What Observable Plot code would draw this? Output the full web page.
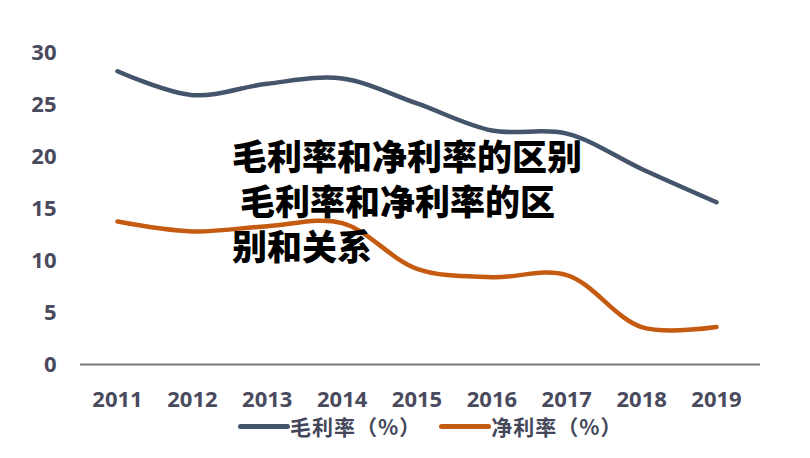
<!DOCTYPE html>
<html>
<head>
<meta charset="utf-8">
<script src="https://cdn.jsdelivr.net/npm/d3@7"></script>
<script src="https://cdn.jsdelivr.net/npm/@observablehq/plot@0.6"></script>
<style>
  html, body { margin: 0; padding: 0; background: #fff; }
  #wrap { position: relative; width: 810px; height: 458px; overflow: hidden; font-family: "Noto Sans CJK SC", "Open Sans", sans-serif; }
  #chart { position: absolute; left: 0; top: 0; }
  #title { position: absolute; left: 232px; top: 132px; font-size: 35px; line-height: 45px; font-weight: 900; color: #000; white-space: pre; }
  #legend { position: absolute; left: 238px; top: 411px; display: flex; align-items: center; font-size: 21px; font-weight: 700; color: #44475a; letter-spacing: 1px; }
  .sw { display: inline-block; width: 52px; height: 5px; border-radius: 3px; }
  .item { display: flex; align-items: center; margin-right: 18px; }
</style>
</head>
<body>
<div id="wrap">
  <div id="chart"></div>
  <div id="title"></div>
  <div id="legend"></div>
</div>
<script>
const years = [2011, 2012, 2013, 2014, 2015, 2016, 2017, 2018, 2019];
const grossMargin = [28.2, 25.9, 27.0, 27.5, 25.1, 22.5, 22.2, 18.8, 15.6];
const netMargin = [13.75, 12.8, 13.3, 13.6, 9.2, 8.4, 8.6, 3.6, 3.6];
const seriesNames = ["毛利率（%）", "净利率（%）"];
const seriesColors = ["#44546a", "#c55a11"];
const yTicks = [0, 5, 10, 15, 20, 25, 30];
const titleLines = ["毛利率和净利率的区别", " 毛利率和净利率的区", "别和关系"];

const data = [];
years.forEach((y, i) => {
  data.push({year: y, value: grossMargin[i], series: seriesNames[0]});
  data.push({year: y, value: netMargin[i], series: seriesNames[1]});
});

const chart = Plot.plot({
  width: 810,
  height: 458,
  marginTop: 52,
  marginBottom: 94,
  marginLeft: 80,
  marginRight: 50,
  style: {fontFamily: "'Open Sans', 'Noto Sans CJK SC', sans-serif", fontSize: "22px", fontWeight: 700, color: "#4a4a5e", background: "#fff"},
  x: {type: "linear", domain: [2011, 2019], range: [117, 716], ticks: years, tickFormat: d => String(d), tickSize: 0, tickPadding: 27, label: null},
  y: {domain: [0, 30], ticks: yTicks, tickSize: 0, tickPadding: 24, label: null},
  color: {domain: seriesNames, range: seriesColors},
  marks: [
    Plot.ruleY([0], {stroke: "#777", strokeWidth: 2}),
    Plot.line(data, {x: "year", y: "value", z: "series", stroke: "series", strokeWidth: 4.5, curve: "catmull-rom"})
  ]
});
document.getElementById("chart").appendChild(chart);

document.getElementById("title").textContent = titleLines.join("\n");

const legend = document.getElementById("legend");
seriesNames.forEach((n, i) => {
  const it = document.createElement("div");
  it.className = "item";
  const sw = document.createElement("span");
  sw.className = "sw";
  sw.style.background = seriesColors[i];
  const t = document.createElement("span");
  t.textContent = n;
  it.appendChild(sw);
  it.appendChild(t);
  legend.appendChild(it);
});
</script>
</body>
</html>
